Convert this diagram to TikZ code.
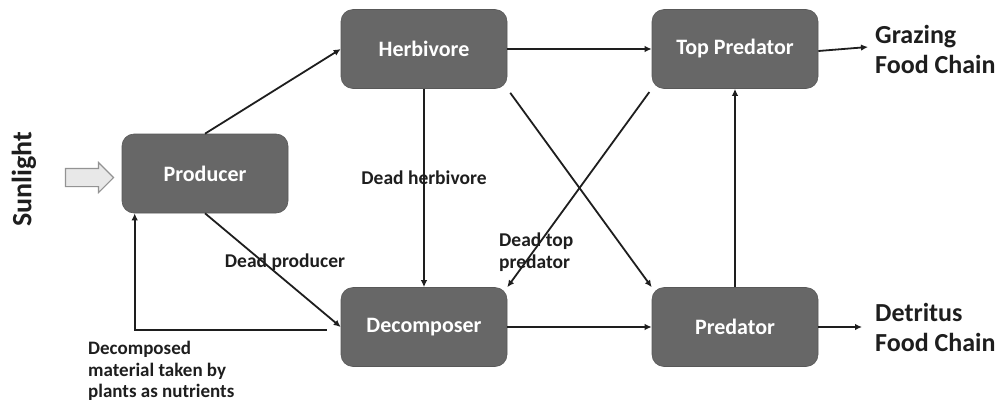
\documentclass[tikz,border=0pt]{standalone}
\usepackage{fontspec}
\setmainfont{Carlito}
\usetikzlibrary{arrows.meta,shapes.arrows}
\definecolor{boxgray}{HTML}{676767}
\definecolor{ink}{HTML}{1E1E1E}
\begin{document}
\begin{tikzpicture}[x=1pt,y=-1pt,
  every node/.style={font=\bfseries},
  stage/.style={draw=boxgray!85!black,line width=0.6pt,fill=boxgray,rounded corners=12pt,minimum width=166pt,minimum height=79pt,text=white,font=\bfseries\fontsize{22}{24}\selectfont},
  flow/.style={draw=ink,line width=1.8pt,-{Latex[length=7pt,width=6.5pt]}},
  lbl/.style={text=ink,font=\bfseries\fontsize{19.5}{22}\selectfont,inner sep=0pt},
  side/.style={text=ink,font=\bfseries\fontsize{26}{30}\selectfont,align=left,inner sep=0pt}]
\useasboundingbox (0,0) rectangle (1001,405);
\fill[white] (0,0) rectangle (1001,405);

% trophic stages
\node[stage] (prod) at (205,173.5) {Producer};
\node[stage] (herb) at (424,49) {Herbivore};
\node[stage] (top)  at (735,49) {Top Predator};
\node[stage] (dec)  at (424,327) {Decomposer};
\node[stage] (pred) at (735,327) {Predator};

% labels on the flows
\node[lbl] (ldp) at (285,262) {Dead producer};
\node[lbl] (ldh) at (424,178) {Dead herbivore};
\node[lbl,align=left,anchor=west] (ldt) at (499,252) {Dead top\\predator};
\node[lbl,align=left,anchor=north west,font=\bfseries\fontsize{19}{21.5}\selectfont] (ldm) at (88,341) {Decomposed\\material taken by\\plants as nutrients};

% sunlight input
\node[side,rotate=90,font=\bfseries\fontsize{28}{30}\selectfont] (sun) at (24,179) {Sunlight};
\node[single arrow,draw=gray!85,fill=gray!18,line width=1.1pt,minimum height=48pt,inner xsep=0pt,inner ysep=8.5pt,single arrow head extend=6pt,single arrow head indent=0pt] (sunarrow) at (85,177.5) {};

% chain names
\node[side,anchor=west] (graz) at (875,49) {Grazing\\Food Chain};
\node[side,anchor=west] (detr) at (875,327) {Detritus\\Food Chain};
\coordinate (gend) at (868,47);
\coordinate (dend) at (862,327);

% energy and matter flows
\draw[flow] (prod.north) -- (herb.west);
\draw[flow] (prod.south) -- (dec.west);
\draw[flow] (herb.east) -- (top.west);
\draw[flow] (herb.south) -- (dec.north);
\draw[flow,shorten <=5pt] (herb.south east) -- (pred.north west);
\draw[flow,shorten <=4pt] (top.south west) -- (dec.north east);
\draw[flow] (dec.east) -- (pred.west);
\draw[flow] (pred.north) -- (top.south);
\draw[flow] ([yshift=-2pt]top.east) -- (gend);
\draw[flow] (pred.east) -- (dend);
\draw[flow] ([xshift=-14pt,yshift=-3pt]dec.west) -| ([xshift=13pt]prod.south west);
\end{tikzpicture}
\end{document}
